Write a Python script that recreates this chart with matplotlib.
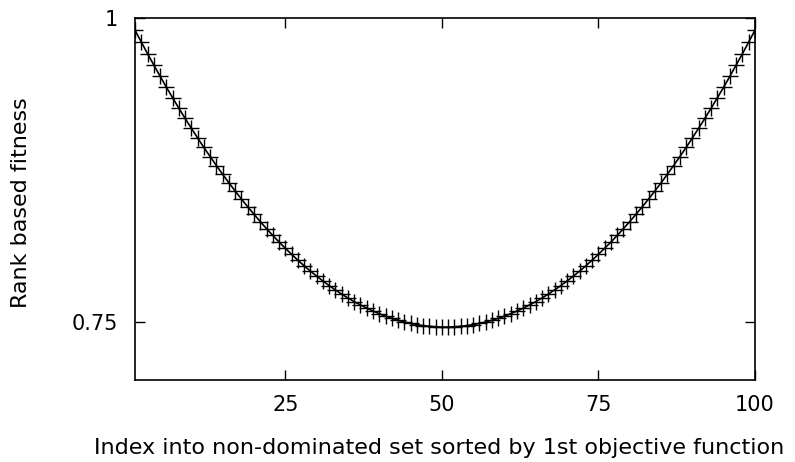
import matplotlib
matplotlib.use("Agg")
import matplotlib.pyplot as plt

# rank based fitness for each member of the non-dominated set (index 1..100)
index = list(range(1, 101))
fitness = [
    0.9900, 0.9803, 0.9707, 0.9614, 0.9522, 0.9432, 0.9345, 0.9259, 0.9175, 0.9094,
    0.9014, 0.8936, 0.8861, 0.8787, 0.8715, 0.8645, 0.8578, 0.8512, 0.8448, 0.8387,
    0.8327, 0.8269, 0.8213, 0.8159, 0.8108, 0.8058, 0.8010, 0.7964, 0.7920, 0.7879,
    0.7839, 0.7801, 0.7765, 0.7731, 0.7699, 0.7669, 0.7642, 0.7616, 0.7592, 0.7570,
    0.7550, 0.7532, 0.7516, 0.7502, 0.7490, 0.7480, 0.7472, 0.7466, 0.7462, 0.7460,
    0.7460, 0.7462, 0.7466, 0.7472, 0.7480, 0.7490, 0.7502, 0.7516, 0.7532, 0.7550,
    0.7570, 0.7592, 0.7616, 0.7642, 0.7669, 0.7699, 0.7731, 0.7765, 0.7801, 0.7839,
    0.7879, 0.7920, 0.7964, 0.8010, 0.8058, 0.8108, 0.8159, 0.8213, 0.8269, 0.8327,
    0.8387, 0.8448, 0.8512, 0.8578, 0.8645, 0.8715, 0.8787, 0.8861, 0.8936, 0.9014,
    0.9094, 0.9175, 0.9259, 0.9345, 0.9432, 0.9522, 0.9614, 0.9707, 0.9803, 0.9900,
]
x_ticks = [25, 50, 75, 100]
y_ticks = [0.75, 1.0]
y_tick_labels = ["0.75", "1"]

plt.rcParams["font.family"] = "DejaVu Sans"
plt.rcParams["font.size"] = 15

fig = plt.figure(figsize=(7.95, 4.62), dpi=100)
ax = fig.add_axes([135 / 795, 1 - 380 / 462, 620 / 795, 362 / 462])

ax.plot(index, fitness, color="black", linewidth=1.2,
        marker="+", markersize=12, markeredgewidth=1.0)

ax.set_xlim(1, 100)
ax.set_ylim(0.7025, 1.0)
ax.set_xticks(x_ticks)
ax.set_yticks(y_ticks)
ax.set_yticklabels(y_tick_labels)

ax.tick_params(direction="in", length=7, width=1.0, top=True, right=True,
               colors="black")
ax.tick_params(axis="x", pad=11)
ax.tick_params(axis="y", pad=12)
for spine in ax.spines.values():
    spine.set_linewidth(1.2)

ax.set_xlabel("Index into non-dominated set sorted by 1st objective function",
              fontsize=16, labelpad=16.5)
ax.xaxis.label.set_x(0.4903)
ax.set_ylabel("Rank based fitness", fontsize=16)
ax.yaxis.set_label_coords(-0.167, 0.49)

fig.savefig("out.png", dpi=100)
